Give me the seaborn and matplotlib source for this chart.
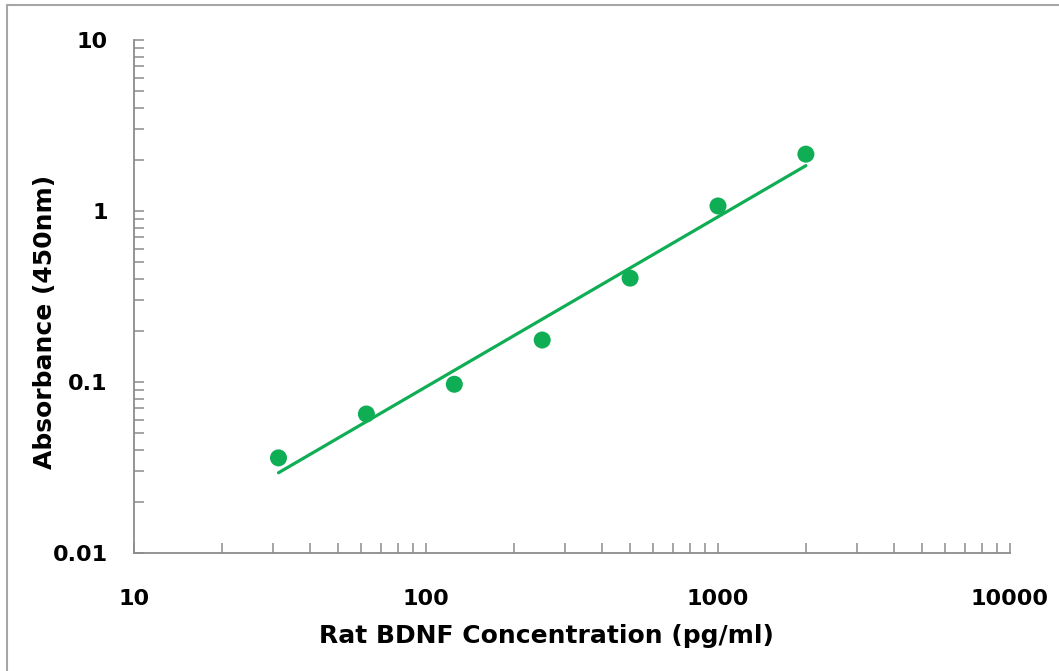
import numpy as np
import pandas as pd
import seaborn as sns
import matplotlib.pyplot as plt
from matplotlib.ticker import LogLocator, FixedLocator, NullFormatter
from matplotlib.lines import Line2D

# standard curve
conc = [31.25, 62.5, 125, 250, 500, 1000, 2000]
absorb = [0.036, 0.065, 0.097, 0.176, 0.405, 1.07, 2.15]

x_ticks = [10, 100, 1000, 10000]
x_labels = ["10", "100", "1000", "10000"]
y_ticks = [0.01, 0.1, 1, 10]
y_labels = ["0.01", "0.1", "1", "10"]

data = pd.DataFrame({"conc": conc, "abs": absorb})

# power trendline (straight line in log-log)
k, b = np.polyfit(np.log10(data["conc"]), np.log10(data["abs"]), 1)
fit = pd.DataFrame({"conc": [conc[0], conc[-1]]})
fit["abs"] = 10 ** (k * np.log10(fit["conc"]) + b)

sns.set_theme(style="white")
plt.rcParams["font.family"] = ["DejaVu Sans"]

green = "#0fae55"
axis_col = "#8c8c8c"

fig = plt.figure(figsize=(10.59, 6.71), dpi=100)
ax = fig.add_axes([134 / 1059, 1 - 553 / 671, (1010 - 134) / 1059, (553 - 40) / 671])

sns.lineplot(data=fit, x="conc", y="abs", color=green, linewidth=2.3, ax=ax)
sns.scatterplot(data=data, x="conc", y="abs", color=green, s=150, edgecolor="none", ax=ax, zorder=3)

ax.set_xscale("log")
ax.set_yscale("log")
ax.set_xlim(10, 10000)
ax.set_ylim(0.01, 10)

ax.xaxis.set_major_locator(FixedLocator(x_ticks))
ax.set_xticklabels(x_labels)
ax.yaxis.set_major_locator(FixedLocator(y_ticks))
ax.set_yticklabels(y_labels)
ax.xaxis.set_minor_locator(LogLocator(base=10, subs=np.arange(2, 10)))
ax.yaxis.set_minor_locator(LogLocator(base=10, subs=np.arange(2, 10)))
ax.xaxis.set_minor_formatter(NullFormatter())
ax.yaxis.set_minor_formatter(NullFormatter())

for sp in ["top", "right"]:
    ax.spines[sp].set_visible(False)
for sp in ["left", "bottom"]:
    ax.spines[sp].set_color(axis_col)
    ax.spines[sp].set_linewidth(1.3)

ax.tick_params(which="both", direction="in", length=7, width=1.1, color=axis_col,
               left=True, bottom=True, labelcolor="black")
ax.tick_params(axis="x", which="major", pad=26, labelsize=16)
ax.tick_params(axis="y", which="major", pad=19, labelsize=16)
for t in ax.get_xticklabels() + ax.get_yticklabels():
    t.set_fontweight("bold")

ax.set_xlabel("Rat BDNF Concentration (pg/ml)", fontsize=18, fontweight="bold", color="black")
ax.set_ylabel("Absorbance (450nm)", fontsize=18, fontweight="bold", color="black")
ax.xaxis.set_label_coords((546 - 134) / 876, (553 - 624) / 513)
ax.yaxis.set_label_coords((57 - 134) / 876, (553 - 322) / 513)

# outer chart border
fig.add_artist(Line2D([7 / 1059, 7 / 1059], [0, 1 - 5 / 671], color="#a6a6a6", linewidth=1.5))
fig.add_artist(Line2D([7 / 1059, 1], [1 - 5 / 671, 1 - 5 / 671], color="#a6a6a6", linewidth=1.5))

fig.savefig("out.png", dpi=100)
